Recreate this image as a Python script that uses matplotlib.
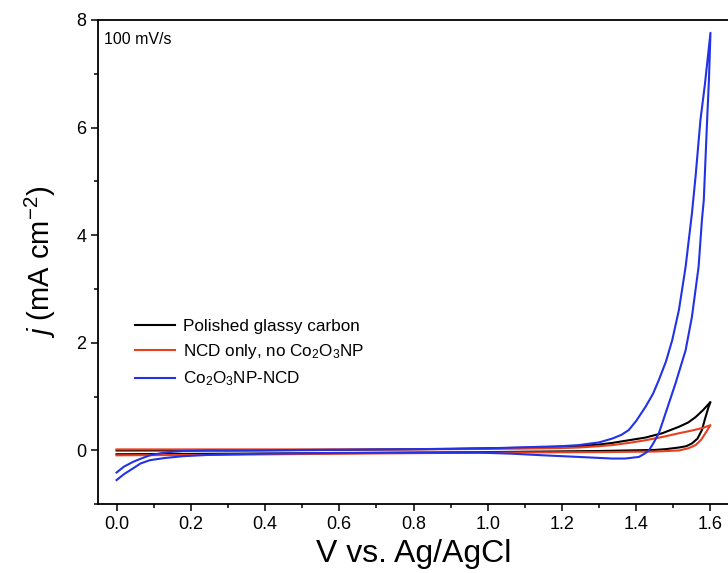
import matplotlib

matplotlib.use("Agg")
import matplotlib.pyplot as plt
import numpy as np
from matplotlib.ticker import MultipleLocator

plt.rcParams["font.family"] = ["Liberation Sans", "DejaVu Sans"]
plt.rcParams["mathtext.fontset"] = "custom"
plt.rcParams["mathtext.rm"] = "Liberation Sans"
plt.rcParams["mathtext.it"] = "Liberation Sans:italic"
plt.rcParams["mathtext.bf"] = "Liberation Sans:bold"

# Polished glassy carbon: anodic sweep then cathodic sweep (V, mA cm^-2)
gc_v_fwd = [0.00, 0.30, 0.60, 0.90, 1.10, 1.245, 1.30, 1.335, 1.38, 1.425, 1.47, 1.515, 1.54, 1.56, 1.58, 1.60]
gc_j_fwd = [0.00, 0.00, 0.01, 0.03, 0.05, 0.08, 0.11, 0.14, 0.19, 0.24, 0.32, 0.44, 0.52, 0.62, 0.75, 0.90]
gc_v_rev = [1.60, 1.595, 1.585, 1.577, 1.565, 1.55, 1.535, 1.515, 1.48, 1.45, 1.30, 1.00, 0.60, 0.30, 0.00]
gc_j_rev = [0.90, 0.81, 0.58, 0.38, 0.22, 0.13, 0.08, 0.055, 0.025, 0.01, -0.01, -0.03, -0.05, -0.06, -0.07]

# NCD only, no Co2O3NP
ncd_v_fwd = [0.00, 0.20, 0.50, 0.80, 1.00, 1.10, 1.20, 1.245, 1.30, 1.335, 1.38, 1.425, 1.47, 1.515, 1.55, 1.58, 1.60]
ncd_j_fwd = [0.02, 0.02, 0.02, 0.02, 0.03, 0.035, 0.045, 0.055, 0.08, 0.10, 0.14, 0.19, 0.25, 0.32, 0.37, 0.42, 0.47]
ncd_v_rev = [1.60, 1.59, 1.575, 1.56, 1.54, 1.515, 1.45, 1.30, 1.00, 0.60, 0.30, 0.00]
ncd_j_rev = [0.47, 0.36, 0.20, 0.10, 0.04, 0.00, -0.02, -0.03, -0.04, -0.06, -0.08, -0.09]

# Co2O3NP-NCD
co_v_fwd = [0.00, 0.02, 0.045, 0.07, 0.09, 0.12, 0.15, 0.18, 0.25, 0.35, 0.50, 0.70, 0.90, 1.00,
            1.10, 1.20, 1.245, 1.30, 1.335, 1.36, 1.38, 1.40, 1.425, 1.445, 1.461, 1.48, 1.497,
            1.515, 1.533, 1.55, 1.56, 1.573, 1.585, 1.60]
co_j_fwd = [-0.41, -0.30, -0.21, -0.14, -0.09, -0.05, -0.025, -0.01, 0.00, 0.00, 0.01, 0.02, 0.03, 0.04,
            0.06, 0.08, 0.10, 0.15, 0.22, 0.29, 0.38, 0.55, 0.81, 1.05, 1.31, 1.65, 2.05,
            2.61, 3.41, 4.40, 5.10, 6.14, 6.80, 7.76]
co_v_rev = [1.60, 1.596, 1.591, 1.582, 1.577, 1.568, 1.55, 1.533, 1.506, 1.479, 1.461, 1.445, 1.434,
            1.42, 1.407, 1.37, 1.335, 1.245, 1.15, 1.066, 0.976, 0.80, 0.60, 0.40, 0.31, 0.24,
            0.18, 0.13, 0.09, 0.065, 0.045, 0.02, 0.00]
co_j_rev = [7.76, 6.90, 6.14, 4.65, 4.28, 3.41, 2.48, 1.86, 1.25, 0.69, 0.32, 0.12, 0.00,
            -0.07, -0.12, -0.15, -0.15, -0.12, -0.09, -0.06, -0.04, -0.04, -0.045, -0.06, -0.07, -0.085,
            -0.106, -0.14, -0.18, -0.24, -0.33, -0.44, -0.55]

series = [
    ("Polished glassy carbon", gc_v_fwd + gc_v_rev, gc_j_fwd + gc_j_rev, "black"),
    (r"NCD only, no Co$_2$O$_3$NP", ncd_v_fwd + ncd_v_rev, ncd_j_fwd + ncd_j_rev, "#e8401e"),
    (r"Co$_2$O$_3$NP-NCD", co_v_fwd + co_v_rev, co_j_fwd + co_j_rev, "#2232e6"),
]

fig = plt.figure(figsize=(7.28, 5.73), dpi=100)
ax = fig.add_axes([0.1346, 0.1199, 0.8668, 0.8454])

for label, v, j, color in series:
    ax.plot(v, j, color=color, lw=1.5, label=label)

ax.set_xlim(-0.05, 1.65)
ax.set_ylim(-1, 8)
ax.xaxis.set_major_locator(MultipleLocator(0.2))
ax.xaxis.set_minor_locator(MultipleLocator(0.1))
ax.yaxis.set_major_locator(MultipleLocator(2))
ax.yaxis.set_minor_locator(MultipleLocator(1))
ax.xaxis.set_major_formatter(matplotlib.ticker.FormatStrFormatter("%.1f"))
ax.tick_params(which="major", direction="out", length=5, width=1.1, labelsize=13)
ax.tick_params(which="minor", direction="out", length=3, width=1.1)
ax.tick_params(top=False, right=False)
for spine in ax.spines.values():
    spine.set_linewidth(1.3)

ax.set_xlabel("V vs. Ag/AgCl", fontsize=23, labelpad=4)
ax.set_ylabel(r"$\mathit{j}$ (mA cm$^{-2}$)", fontsize=21, labelpad=13)

ax.text(0.009, 0.975, "100 mV/s", transform=ax.transAxes, fontsize=11.5, va="top", ha="left")

ax.legend(
    loc="upper left",
    bbox_to_anchor=(0.035, 0.415),
    frameon=False,
    fontsize=12.3,
    handlelength=2.3,
    handletextpad=0.5,
    labelspacing=0.5,
)

fig.savefig("out.png", dpi=100)
